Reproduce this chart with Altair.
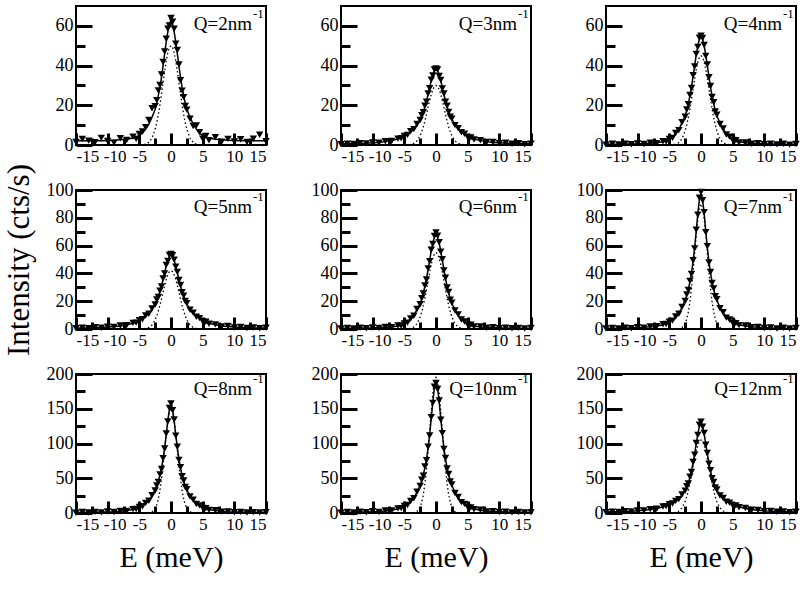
import altair as alt
import pandas as pd

FONT = "Liberation Serif"

# Energy transfer grid (meV)
E = [-15, -14, -13, -12, -11, -10, -9, -8, -7, -6, -5.5, -5, -4.5, -4, -3.5, -3, -2.5,
     -2.25, -2, -1.75, -1.5, -1.25, -1, -0.75, -0.5, -0.25, 0, 0.25, 0.5, 0.75, 1, 1.25,
     1.5, 1.75, 2, 2.25, 2.5, 3, 3.5, 4, 4.5, 5, 5.5, 6, 7, 8, 9, 10, 11, 12, 13, 14, 15]

E_MAJOR = [-15, -10, -5, 0, 5, 10, 15]
E_MINOR = [-12.5, -7.5, -2.5, 2.5, 7.5, 12.5]

Q_VALUES = ["2", "3", "4", "5", "6", "7", "8", "10", "12"]
Y_MAX_ROWS = [70, 100, 200]
Y_MAJOR_ROWS = [[0, 20, 40, 60], [0, 20, 40, 60, 80, 100], [0, 50, 100, 150, 200]]
Y_MINOR_ROWS = [[10, 30, 50], [10, 30, 50, 70, 90], [25, 75, 125, 175]]

# measured intensities (cts/s)
DATA_Q2 = [1.5, 3.0, 2.2, 1.4, 3.6, 2.0, 1.2, 3.4, 2.5, 4.2, 3.1, 5.5, 6.8, 8.9, 12.6, 18.5, 19.5, 22.6, 27.5, 30.2, 35.5, 41.8, 47.1, 53.5, 58.6, 60.2, 64.0, 62.1, 58.5, 51.0, 47.8, 40.5, 32.6, 27.4, 24.1, 19.6, 17.8, 13.2, 9.6, 9.8, 6.5, 3.2, 4.6, 2.4, 3.9, 1.6, 3.1, 1.8, 2.9, 1.5, 3.2, 5.2, 1.9]
DATA_Q3 = [0.4, 0.7, 0.5, 0.9, 0.8, 1.3, 1.1, 1.9, 2.0, 3.2, 3.4, 4.6, 5.1, 7.0, 8.0, 10.6, 12.6, 15.0, 16.5, 19.8, 21.8, 25.9, 28.6, 32.9, 35.0, 38.0, 38.5, 38.1, 34.8, 32.8, 28.5, 25.9, 21.8, 19.8, 16.6, 14.3, 13.3, 10.0, 8.5, 6.4, 5.7, 4.0, 3.8, 2.8, 2.4, 1.5, 1.5, 0.9, 1.1, 0.6, 0.9, 0.4, 0.7]
DATA_Q4 = [0.2, 0.6, 0.3, 0.7, 0.4, 0.8, 0.5, 1.1, 0.9, 1.9, 1.8, 3.1, 3.6, 6.0, 7.5, 11.5, 14.2, 17.9, 20.5, 25.2, 28.7, 35.1, 39.5, 45.9, 49.4, 54.0, 55.0, 53.9, 50.4, 44.9, 40.5, 34.1, 29.7, 24.2, 21.5, 16.9, 15.2, 10.6, 8.3, 5.3, 4.2, 2.5, 2.4, 1.3, 1.3, 0.6, 0.9, 0.4, 0.7, 0.3, 0.6, 0.2, 0.5]
DATA_Q5 = [0.5, 0.9, 0.6, 1.2, 0.9, 1.7, 1.5, 2.5, 2.7, 4.4, 4.6, 6.4, 7.0, 9.7, 11.0, 14.8, 17.6, 21.2, 23.0, 27.6, 30.6, 36.3, 40.0, 46.0, 48.9, 53.3, 54.0, 53.1, 49.9, 44.9, 41.1, 35.2, 31.6, 26.5, 24.0, 20.1, 18.6, 13.8, 11.8, 8.8, 7.8, 5.6, 5.2, 3.8, 3.3, 1.9, 2.1, 1.1, 1.4, 0.7, 1.1, 0.5, 0.9]
DATA_Q6 = [0.3, 0.8, 0.4, 1.0, 0.6, 1.1, 0.8, 1.5, 1.3, 2.5, 2.4, 4.0, 4.6, 7.6, 9.5, 14.4, 17.8, 22.2, 25.5, 31.3, 35.6, 43.6, 48.8, 57.0, 61.2, 67.0, 69.5, 67.1, 62.4, 55.6, 50.2, 42.2, 36.9, 29.9, 26.7, 21.0, 18.9, 13.3, 10.5, 6.8, 5.4, 3.2, 3.0, 1.8, 1.8, 0.9, 1.2, 0.6, 1.0, 0.5, 0.8, 0.4, 0.7]
DATA_Q7 = [0.3, 0.8, 0.4, 1.0, 0.6, 1.3, 1.0, 1.9, 2.0, 3.4, 3.6, 5.3, 6.0, 9.0, 11.0, 15.9, 20.2, 24.9, 28.0, 34.6, 39.6, 49.5, 58.0, 71.4, 82.3, 94.4, 98.5, 92.6, 84.1, 69.6, 59.6, 47.8, 41.0, 33.2, 29.2, 23.6, 21.4, 14.9, 12.0, 8.2, 6.8, 4.6, 4.2, 2.8, 2.5, 1.3, 1.5, 0.7, 1.1, 0.4, 0.9, 0.3, 0.8]
DATA_Q8 = [0.4, 1.4, 0.6, 1.6, 0.9, 2.1, 1.4, 3.1, 3.0, 5.6, 5.8, 8.7, 9.6, 14.6, 17.6, 25.6, 32.4, 39.8, 44.6, 55.6, 63.2, 79.0, 92.8, 114.3, 131.7, 151.0, 157.5, 148.0, 134.5, 111.3, 95.4, 76.4, 65.8, 53.0, 46.8, 37.6, 34.2, 23.8, 19.2, 13.0, 11.0, 7.3, 6.8, 4.5, 3.9, 2.0, 2.3, 1.2, 1.6, 0.8, 1.3, 0.7, 1.1]
DATA_Q10 = [0.5, 1.5, 0.7, 1.8, 1.0, 2.4, 1.6, 3.5, 3.6, 6.6, 7.0, 10.2, 11.5, 17.3, 21.2, 30.6, 39.0, 47.8, 53.8, 66.8, 76.0, 95.3, 111.6, 137.8, 158.4, 181.6, 187.0, 178.4, 161.8, 134.2, 114.9, 92.0, 79.1, 64.0, 56.2, 45.4, 41.1, 28.7, 23.0, 15.7, 13.1, 8.8, 8.0, 5.4, 4.6, 2.3, 2.6, 1.4, 1.8, 0.9, 1.4, 0.7, 1.2]
DATA_Q12 = [1.0, 2.0, 1.5, 2.6, 2.3, 3.5, 3.6, 5.6, 6.2, 9.3, 9.9, 12.5, 13.6, 17.5, 20.0, 26.7, 32.2, 38.5, 42.5, 52.3, 59.2, 73.4, 84.0, 100.8, 112.4, 126.9, 131.5, 124.0, 115.1, 98.1, 86.4, 70.9, 61.5, 50.2, 44.5, 36.7, 33.9, 25.1, 21.5, 16.1, 14.9, 11.2, 10.8, 8.2, 7.2, 4.6, 4.4, 2.7, 3.0, 1.8, 2.3, 1.3, 1.9]

# total fit (solid line)
FIT_Q2 = [2.1, 2.1, 2.1, 2.2, 2.2, 2.3, 2.4, 2.6, 2.9, 3.5, 4.0, 4.7, 6.0, 8.0, 10.5, 14.0, 18.0, 21.0, 25.0, 29.0, 34.0, 40.0, 46.0, 52.0, 57.0, 61.0, 63.0, 61.0, 57.0, 52.0, 46.0, 40.0, 34.0, 29.0, 25.0, 21.0, 18.0, 14.0, 10.5, 8.0, 6.0, 4.7, 4.0, 3.5, 2.9, 2.6, 2.4, 2.3, 2.2, 2.2, 2.1, 2.1, 2.1]
FIT_Q3 = [0.6, 0.6, 0.7, 0.8, 0.9, 1.1, 1.3, 1.7, 2.2, 3.0, 3.6, 4.3, 5.4, 6.7, 8.2, 10.3, 13.0, 14.7, 16.9, 19.4, 22.2, 25.5, 29.0, 32.4, 35.3, 37.6, 38.8, 37.6, 35.3, 32.4, 29.0, 25.5, 22.2, 19.4, 16.9, 14.7, 13.0, 10.3, 8.2, 6.7, 5.4, 4.3, 3.6, 3.0, 2.2, 1.7, 1.3, 1.1, 0.9, 0.8, 0.7, 0.6, 0.6]
FIT_Q4 = [0.4, 0.4, 0.4, 0.5, 0.5, 0.6, 0.7, 0.9, 1.1, 1.6, 2.1, 2.8, 3.9, 5.7, 7.9, 11.1, 14.7, 17.4, 21.0, 24.7, 29.2, 34.6, 40.0, 45.4, 49.9, 53.5, 55.3, 53.5, 49.9, 45.4, 40.0, 34.6, 29.2, 24.7, 21.0, 17.4, 14.7, 11.1, 7.9, 5.7, 3.9, 2.8, 2.1, 1.6, 1.1, 0.9, 0.7, 0.6, 0.5, 0.5, 0.4, 0.4, 0.4]
FIT_Q5 = [0.7, 0.7, 0.8, 1.0, 1.1, 1.4, 1.8, 2.2, 3.0, 4.1, 4.9, 6.0, 7.4, 9.2, 11.4, 14.3, 18.1, 20.6, 23.5, 27.0, 31.1, 35.7, 40.5, 45.4, 49.4, 52.7, 54.3, 52.7, 49.4, 45.4, 40.5, 35.7, 31.1, 27.0, 23.5, 20.6, 18.1, 14.3, 11.4, 9.2, 7.4, 6.0, 4.9, 4.1, 3.0, 2.2, 1.8, 1.4, 1.1, 1.0, 0.8, 0.7, 0.7]
FIT_Q6 = [0.6, 0.6, 0.6, 0.7, 0.8, 0.8, 1.0, 1.2, 1.5, 2.1, 2.7, 3.6, 5.0, 7.2, 10.0, 13.9, 18.3, 21.6, 26.1, 30.6, 36.2, 42.9, 49.5, 56.3, 61.8, 66.3, 68.5, 66.3, 61.8, 56.3, 49.5, 42.9, 36.2, 30.6, 26.1, 21.6, 18.3, 13.9, 10.0, 7.2, 5.0, 3.6, 2.7, 2.1, 1.5, 1.2, 1.0, 0.8, 0.8, 0.7, 0.6, 0.6, 0.6]
FIT_Q7 = [0.5, 0.6, 0.6, 0.7, 0.8, 1.0, 1.2, 1.6, 2.2, 3.1, 3.9, 5.0, 6.4, 8.6, 11.5, 15.4, 20.8, 24.2, 28.6, 33.9, 40.3, 48.6, 58.8, 70.5, 83.2, 93.4, 97.8, 93.4, 83.2, 70.5, 58.8, 48.6, 40.3, 33.9, 28.6, 24.2, 20.8, 15.4, 11.5, 8.6, 6.4, 5.0, 3.9, 3.1, 2.2, 1.6, 1.2, 1.0, 0.8, 0.7, 0.6, 0.6, 0.5]
FIT_Q8 = [0.8, 1.0, 1.0, 1.1, 1.3, 1.6, 1.9, 2.5, 3.5, 5.0, 6.3, 8.0, 10.3, 13.8, 18.4, 24.7, 33.3, 38.7, 45.7, 54.3, 64.5, 77.7, 94.1, 112.8, 133.1, 149.5, 156.5, 149.5, 133.1, 112.8, 94.1, 77.7, 64.5, 54.3, 45.7, 38.7, 33.3, 24.7, 18.4, 13.8, 10.3, 8.0, 6.3, 5.0, 3.5, 2.5, 1.9, 1.6, 1.3, 1.1, 1.0, 1.0, 0.8]
FIT_Q10 = [0.9, 1.1, 1.1, 1.3, 1.4, 1.8, 2.2, 2.9, 4.1, 6.0, 7.5, 9.5, 12.3, 16.5, 22.1, 29.6, 40.0, 46.6, 55.0, 65.4, 77.6, 93.6, 113.3, 135.9, 160.3, 180.0, 188.5, 180.0, 160.3, 135.9, 113.3, 93.6, 77.6, 65.4, 55.0, 46.6, 40.0, 29.6, 22.1, 16.5, 12.3, 9.5, 7.5, 6.0, 4.1, 2.9, 2.2, 1.8, 1.4, 1.3, 1.1, 1.1, 0.9]
FIT_Q12 = [1.5, 1.7, 1.9, 2.2, 2.6, 3.1, 3.9, 5.1, 6.6, 8.8, 10.3, 11.9, 14.2, 16.8, 20.7, 25.9, 33.0, 37.6, 43.4, 51.2, 60.3, 72.0, 85.0, 99.3, 113.6, 125.3, 130.5, 125.3, 113.6, 99.3, 85.0, 72.0, 60.3, 51.2, 43.4, 37.6, 33.0, 25.9, 20.7, 16.8, 14.2, 11.9, 10.3, 8.8, 6.6, 5.1, 3.9, 3.1, 2.6, 2.2, 1.9, 1.7, 1.5]

# narrow component (dotted line)
COMP_Q2 = [0, 0, 0, 0, 0, 0, 0, 0, 0, 0, 0, 0, 0.1, 0.4, 1.3, 3.5, 7.9, 11.2, 15.3, 20.2, 25.7, 31.5, 37.2, 42.4, 46.5, 49.1, 50, 49.1, 46.5, 42.4, 37.2, 31.5, 25.7, 20.2, 15.3, 11.2, 7.9, 3.5, 1.3, 0.4, 0.1, 0, 0, 0, 0, 0, 0, 0, 0, 0, 0, 0, 0]
COMP_Q3 = [0, 0, 0, 0, 0, 0, 0, 0, 0, 0, 0, 0, 0.1, 0.3, 0.8, 2.1, 4.7, 6.7, 9.2, 12.1, 15.4, 18.9, 22.3, 25.4, 27.9, 29.5, 30, 29.5, 27.9, 25.4, 22.3, 18.9, 15.4, 12.1, 9.2, 6.7, 4.7, 2.1, 0.8, 0.3, 0.1, 0, 0, 0, 0, 0, 0, 0, 0, 0, 0, 0, 0]
COMP_Q4 = [0, 0, 0, 0, 0, 0, 0, 0, 0, 0, 0, 0, 0.1, 0.4, 1.2, 3.1, 7.1, 10.1, 13.8, 18.2, 23.1, 28.4, 33.5, 38.1, 41.8, 44.2, 45, 44.2, 41.8, 38.1, 33.5, 28.4, 23.1, 18.2, 13.8, 10.1, 7.1, 3.1, 1.2, 0.4, 0.1, 0, 0, 0, 0, 0, 0, 0, 0, 0, 0, 0, 0]
COMP_Q5 = [0, 0, 0, 0, 0, 0, 0, 0, 0, 0, 0, 0, 0.1, 0.4, 1.1, 2.9, 6.6, 9.4, 12.9, 17.0, 21.6, 26.5, 31.2, 35.6, 39.0, 41.2, 42, 41.2, 39.0, 35.6, 31.2, 26.5, 21.6, 17.0, 12.9, 9.4, 6.6, 2.9, 1.1, 0.4, 0.1, 0, 0, 0, 0, 0, 0, 0, 0, 0, 0, 0, 0]
COMP_Q6 = [0, 0, 0, 0, 0, 0, 0, 0, 0, 0, 0, 0, 0.1, 0.5, 1.5, 3.8, 8.6, 12.3, 16.8, 22.2, 28.3, 34.7, 40.9, 46.6, 51.1, 54.0, 55, 54.0, 51.1, 46.6, 40.9, 34.7, 28.3, 22.2, 16.8, 12.3, 8.6, 3.8, 1.5, 0.5, 0.1, 0, 0, 0, 0, 0, 0, 0, 0, 0, 0, 0, 0]
COMP_Q7 = [0, 0, 0, 0, 0, 0, 0, 0, 0, 0, 0, 0, 0, 0, 0.2, 1.0, 4.0, 7.2, 12.2, 19.4, 29.3, 41.2, 54.6, 68.0, 79.4, 87.2, 90, 87.2, 79.4, 68.0, 54.6, 41.2, 29.3, 19.4, 12.2, 7.2, 4.0, 1.0, 0.2, 0, 0, 0, 0, 0, 0, 0, 0, 0, 0, 0, 0, 0, 0]
COMP_Q8 = [0, 0, 0, 0, 0, 0, 0, 0, 0, 0, 0, 0, 0, 0, 0.3, 1.7, 6.6, 12.0, 20.3, 32.4, 48.8, 68.7, 91.1, 113.3, 132.3, 145.4, 150, 145.4, 132.3, 113.3, 91.1, 68.7, 48.8, 32.4, 20.3, 12.0, 6.6, 1.7, 0.3, 0, 0, 0, 0, 0, 0, 0, 0, 0, 0, 0, 0, 0, 0]
COMP_Q10 = [0, 0, 0, 0, 0, 0, 0, 0, 0, 0, 0, 0, 0, 0, 0.4, 2.1, 8.6, 15.6, 26.3, 42.1, 63.4, 89.3, 118.4, 147.2, 172.0, 189.0, 195, 189.0, 172.0, 147.2, 118.4, 89.3, 63.4, 42.1, 26.3, 15.6, 8.6, 2.1, 0.4, 0, 0, 0, 0, 0, 0, 0, 0, 0, 0, 0, 0, 0, 0]
COMP_Q12 = [0, 0, 0, 0, 0, 0, 0, 0, 0, 0, 0, 0, 0.3, 0.9, 2.8, 7.3, 16.5, 23.5, 32.1, 42.4, 54.0, 66.2, 78.1, 88.9, 97.5, 103.1, 105, 103.1, 97.5, 88.9, 78.1, 66.2, 54.0, 42.4, 32.1, 23.5, 16.5, 7.3, 2.8, 0.9, 0.3, 0, 0, 0, 0, 0, 0, 0, 0, 0, 0, 0, 0]

DATA = [DATA_Q2, DATA_Q3, DATA_Q4, DATA_Q5, DATA_Q6, DATA_Q7, DATA_Q8, DATA_Q10, DATA_Q12]
FIT = [FIT_Q2, FIT_Q3, FIT_Q4, FIT_Q5, FIT_Q6, FIT_Q7, FIT_Q8, FIT_Q10, FIT_Q12]
COMP = [COMP_Q2, COMP_Q3, COMP_Q4, COMP_Q5, COMP_Q6, COMP_Q7, COMP_Q8, COMP_Q10, COMP_Q12]

for arrs in (DATA, FIT, COMP):
    for a in arrs:
        assert len(a) == len(E), len(a)

W, H = 190, 139
LABEL_BASE = [24, 23, 21]

# shift of the "-10" / "-5" tick labels, as drawn in the reference
X_LABEL_OFFSET = {"condition": {"test": "datum.value == -10", "value": 7},
                  "value": 0}


def tick_axis(orient, values, size):
    return alt.Axis(orient=orient, values=values, tickSize=size, offset=-size,
                    labels=False, domain=False, grid=False, ticks=True,
                    tickWidth=3, tickColor="black")


def panel(k):
    row = k // 3
    df = pd.DataFrame({"E": E, "I": DATA[k], "F": FIT[k], "N": COMP[k]})
    xs = alt.Scale(domain=[-15, 15], nice=False, zero=False)
    ys = alt.Scale(domain=[0, Y_MAX_ROWS[row]], nice=False)
    base = alt.Chart(df)

    xkw = dict(orient="bottom", values=E_MAJOR, tickSize=0, domain=False, grid=False,
               labelPadding=3, labelFontSize=17, labelFont=FONT, labelColor="black",
               labelExpr="'' + datum.value", labelOverlap=False,
               labelOffset=X_LABEL_OFFSET,
               titleFontSize=30, titleFont=FONT, titleFontWeight="normal",
               titlePadding=10, titleColor="black")
    ykw = dict(orient="left", values=Y_MAJOR_ROWS[row], tickSize=0, domain=False, grid=False,
               labelPadding=3, labelFontSize=18, labelFont=FONT, labelColor="black",
               labelFlush=False, labelOverlap=False,
               titleFontSize=31, titleFont=FONT, titleFontWeight="normal",
               titlePadding=11, titleColor="black")
    xtitle = "E (meV)" if row == 2 else None
    ytitle = "Intensity (cts/s)" if k == 3 else None

    comp = base.mark_line(color="black", strokeWidth=1.3, strokeDash=[1.5, 2.5]).encode(
        x=alt.X("E:Q", scale=xs, title=None, axis=tick_axis("bottom", E_MINOR, 7)),
        y=alt.Y("N:Q", scale=ys, title=None, axis=tick_axis("left", Y_MINOR_ROWS[row], 9)),
    )
    fit = base.mark_line(color="black", strokeWidth=1.5).encode(
        x=alt.X("E:Q", scale=xs, title=None, axis=tick_axis("bottom", E_MAJOR, 12)),
        y=alt.Y("F:Q", scale=ys, title=None, axis=tick_axis("left", Y_MAJOR_ROWS[row], 16)),
    )
    pts = base.mark_point(shape="triangle-down", filled=True, size=55, color="black",
                          opacity=1, strokeWidth=0).encode(
        x=alt.X("E:Q", scale=xs, title=xtitle, axis=alt.Axis(**xkw)),
        y=alt.Y("I:Q", scale=ys, title=ytitle, axis=alt.Axis(**ykw)),
    )
    lab = alt.Chart(pd.DataFrame({"t": ["Q=" + Q_VALUES[k] + "nm"]})).mark_text(
        font=FONT, fontSize=19, align="right", baseline="alphabetic", color="black"
    ).encode(text="t:N", x=alt.value(W - 14), y=alt.value(LABEL_BASE[row]))
    sup = alt.Chart(pd.DataFrame({"t": ["-1"]})).mark_text(
        font=FONT, fontSize=13, align="left", baseline="alphabetic", color="black"
    ).encode(text="t:N", x=alt.value(W - 13), y=alt.value(LABEL_BASE[row] - 12))

    return alt.layer(comp, fit, pts, lab, sup).resolve_axis(
        x="independent", y="independent").properties(width=W, height=H)


chart = alt.concat(*[panel(k) for k in range(9)], columns=3,
                   spacing={"row": 45, "column": 75}, bounds="flush").properties(
    padding={"left": 2, "top": 5, "right": 5, "bottom": 2},
    background="white",
).configure_view(stroke="black", strokeWidth=2)

chart.save("out.html", embed_options={"renderer": "svg", "actions": False})
